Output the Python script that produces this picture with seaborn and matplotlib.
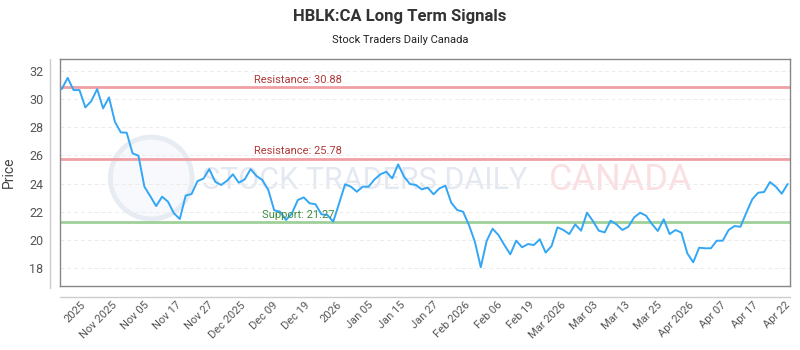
import numpy as np
import pandas as pd
import matplotlib.pyplot as plt
import seaborn as sns
from matplotlib.lines import Line2D
from matplotlib.patches import Ellipse

# Daily closing prices
prices = [30.72, 31.52, 30.65, 30.65, 29.42, 29.87, 30.72, 29.35, 30.13, 28.40,
          27.64, 27.62, 26.15, 25.98, 23.78, 23.10, 22.40, 23.07, 22.71, 21.89,
          21.48, 23.15, 23.26, 24.18, 24.35, 25.03, 24.13, 23.90, 24.20, 24.66,
          24.06, 24.30, 25.03, 24.54, 24.25, 23.54, 22.10, 22.00, 21.41, 21.89,
          22.83, 23.02, 22.60, 22.53, 21.81, 21.77, 21.29, 22.60, 23.95, 23.78,
          23.42, 23.78, 23.78, 24.30, 24.66, 24.84, 24.37, 25.37, 24.49, 23.97,
          23.90, 23.59, 23.71, 23.24, 23.66, 23.85, 22.64, 22.12, 22.00, 21.05,
          19.87, 18.05, 19.92, 20.79, 20.34, 19.63, 18.97, 19.94, 19.47, 19.70,
          19.63, 20.04, 19.09, 19.56, 20.89, 20.70, 20.41, 21.10, 20.65, 21.93,
          21.34, 20.65, 20.53, 21.36, 21.10, 20.70, 20.93, 21.60, 21.93, 21.72,
          21.13, 20.63, 21.46, 20.41, 20.70, 20.51, 19.04, 18.40, 19.44, 19.40,
          19.40, 19.94, 19.94, 20.70, 20.98, 20.93, 21.93, 22.88, 23.35, 23.40,
          24.11, 23.78, 23.28, 23.97]

tick_labels = ["2025", "Nov 2025", "Nov 05", "Nov 17", "Nov 27", "Dec 2025",
               "Dec 09", "Dec 19", "2026", "Jan 05", "Jan 15", "Jan 27",
               "Feb 2026", "Feb 06", "Feb 19", "Mar 2026", "Mar 03", "Mar 13",
               "Mar 25", "Apr 2026", "Apr 07", "Apr 17", "Apr 22"]

resistance_levels = [30.88, 25.78]
support_level = 21.27
y_ticks = [18, 20, 22, 24, 26, 28, 30, 32]

df = pd.DataFrame({'day': np.arange(len(prices)), 'price': prices})

sns.set_theme(style='white')
plt.rcParams['font.family'] = ['Roboto', 'DejaVu Sans']

fig = plt.figure(figsize=(8, 3.5), dpi=100)
ax = fig.add_axes([0.075, 0.183, 0.9125, 0.648])

# watermark
ax.add_patch(Ellipse((0.125, 0.476), 0.112, 0.361, transform=ax.transAxes,
                     facecolor='#f8f9fc', edgecolor='#e7ebf2', lw=3.5, zorder=0))
ax.text(0.418, 0.467, "STOCK TRADERS DAILY", transform=ax.transAxes,
        ha='center', va='center', fontsize=22, color='#e4e9f1', zorder=0)
ax.text(0.768, 0.467, "CANADA", transform=ax.transAxes,
        ha='center', va='center', fontsize=26, color='#fbe0e3', zorder=0)

# grid
for yv in y_ticks:
    ax.axhline(yv, color='#ececec', lw=0.7, ls=(0, (4, 3)), zorder=1)

# signal levels
for lvl in resistance_levels:
    ax.axhline(lvl, color='#f0a0a4', lw=2, zorder=2)
    ax.text(0.326, lvl + 0.15, f"Resistance: {lvl:.2f}", transform=ax.get_yaxis_transform(),
            ha='center', va='bottom', fontsize=8, color='#b03a3a', zorder=4)
ax.axhline(support_level, color='#9fd09a', lw=2, zorder=2)
ax.text(0.326, support_level + 0.15, f"Support: {support_level:.2f}",
        transform=ax.get_yaxis_transform(), ha='center', va='bottom',
        fontsize=8, color='#3d8c3d', zorder=4)

sns.lineplot(data=df, x='day', y='price', color='#33a6f5', lw=1.4, ax=ax, zorder=3)

ax.set_xlim(-0.3, 123.4)
ax.set_ylim(16.72, 32.85)
ax.set_yticks(y_ticks)
ax.set_xticks(np.linspace(3.1, 122.6, len(tick_labels)))
ax.set_xticklabels(tick_labels, rotation=45, ha='right', rotation_mode='anchor')
ax.tick_params(axis='y', length=0, pad=12, labelsize=9, labelcolor='#555555')
ax.tick_params(axis='x', length=0, pad=10, labelsize=8, labelcolor='#555555')
ax.set_xlabel("")
ax.set_ylabel("Price", fontsize=10, color='#444444')
ax.yaxis.set_label_coords(-0.06, 0.5)

for sp in ax.spines.values():
    sp.set_color('#888888')
    sp.set_linewidth(1)

# offset axis lines
fig.add_artist(Line2D([0.0625, 0.0625], [0.177, 0.831], color='#cccccc', lw=1))
fig.add_artist(Line2D([0.075, 0.9875], [0.151, 0.151], color='#cccccc', lw=1))

fig.text(0.5, 1 - 16 / 350, "HBLK:CA Long Term Signals", ha='center', va='center',
         fontsize=12, fontweight='bold', color='#333333')
fig.text(0.5, 1 - 40 / 350, "Stock Traders Daily Canada", ha='center', va='center',
         fontsize=8, color='#222222')

plt.savefig("out.png", dpi=100)
